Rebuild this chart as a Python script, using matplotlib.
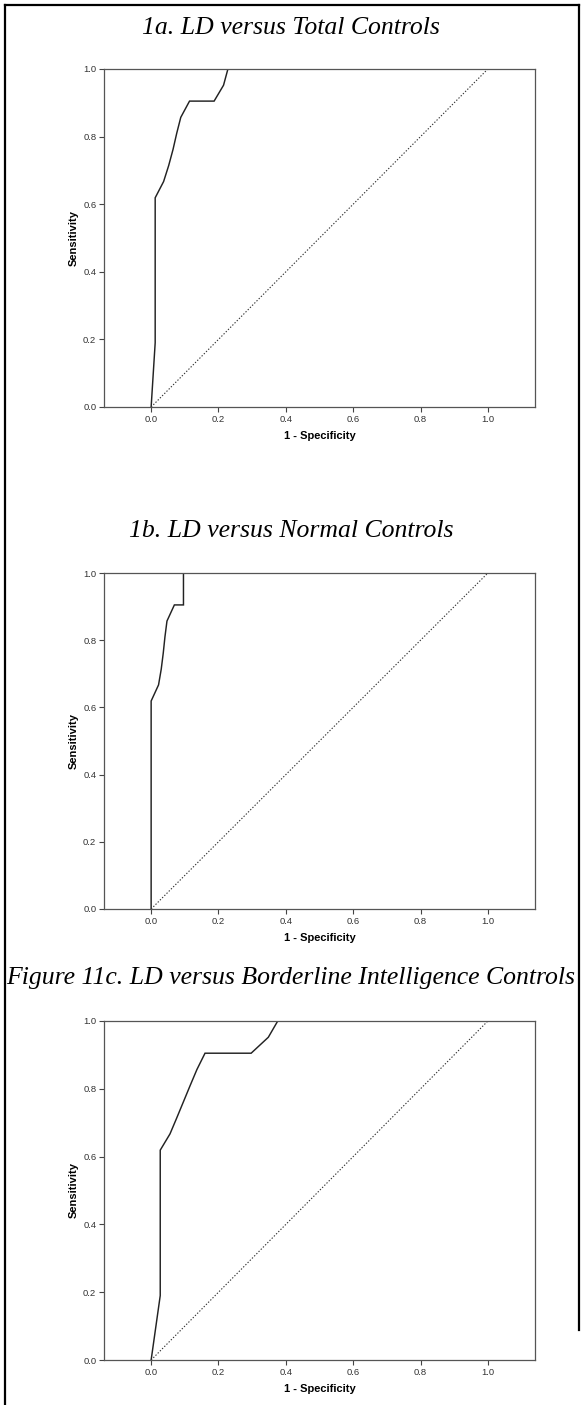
"""ROC curves: LD versus control groups (three panels)."""
import matplotlib.pyplot as plt
from matplotlib.lines import Line2D

# 1 - specificity / sensitivity pairs
fpr_total = [0.0, 0.012, 0.012, 0.037, 0.052, 0.065, 0.076, 0.088, 0.114, 0.187, 0.215, 0.228, 1.0]
tpr_total = [0.0, 0.190, 0.619, 0.667, 0.714, 0.762, 0.810, 0.857, 0.905, 0.905, 0.952, 1.0, 1.0]

fpr_normal = [0.0, 0.0, 0.022, 0.030, 0.036, 0.041, 0.047, 0.069, 0.096, 0.096, 1.0]
tpr_normal = [0.0, 0.619, 0.667, 0.714, 0.762, 0.810, 0.857, 0.905, 0.905, 1.0, 1.0]

fpr_border = [0.0, 0.027, 0.027, 0.056, 0.076, 0.096, 0.116, 0.136, 0.160, 0.297, 0.348, 0.376, 1.0]
tpr_border = [0.0, 0.190, 0.619, 0.667, 0.714, 0.762, 0.810, 0.857, 0.905, 0.905, 0.952, 1.0, 1.0]

titles = ["1a. LD versus Total Controls",
          "1b. LD versus Normal Controls",
          "Figure 11c. LD versus Borderline Intelligence Controls"]
ticks = [0.0, 0.2, 0.4, 0.6, 0.8, 1.0]

W, H = 584, 1405
fig = plt.figure(figsize=(W / 100, H / 100), dpi=100)

# panel boxes in pixels: (top, bottom)
boxes = [(69, 407), (573, 909), (1021, 1360)]
title_y = [28, 531, 978]
left, right = 104, 535
curves = [(fpr_total, tpr_total), (fpr_normal, tpr_normal), (fpr_border, tpr_border)]

for (top, bot), ty, title, (fx, fy) in zip(boxes, title_y, titles, curves):
    ax = fig.add_axes([left / W, 1 - bot / H, (right - left) / W, (bot - top) / H])
    ax.plot(fx, fy, color="#222222", lw=1.05, solid_joinstyle="miter")
    ax.plot([0, 1], [0, 1], color="#333333", lw=0.8, ls=(0, (1.2, 1.6)))
    ax.set_xlim(-0.14, 1.14)
    ax.set_ylim(0, 1.0)
    ax.set_xticks(ticks)
    ax.set_yticks(ticks)
    ax.set_xticklabels([f"{t:.1f}" for t in ticks])
    ax.set_yticklabels([f"{t:.1f}" for t in ticks])
    ax.tick_params(direction="out", length=3.5, width=0.8, color="#444444",
                   labelsize=6.8, labelcolor="#333333", pad=2)
    ax.tick_params(axis="x", top=False)
    ax.tick_params(axis="y", right=False)
    for s in ax.spines.values():
        s.set_color("#555555")
        s.set_linewidth(0.9)
    ax.set_xlabel("1 - Specificity", fontsize=8, fontweight="bold",
                  family="Liberation Sans", labelpad=5)
    ax.set_ylabel("Sensitivity", fontsize=8, fontweight="bold",
                  family="Liberation Sans", labelpad=3)
    for lab in ax.get_xticklabels() + ax.get_yticklabels():
        lab.set_family("Liberation Sans")
    fig.text(291 / W, 1 - ty / H, title, ha="center", va="center",
             fontsize=18.5, style="italic", family="Liberation Serif")

# outer frame
fig.add_artist(Line2D([5 / W, 5 / W], [0, 1 - 5 / H], color="black", lw=1.6,
                      transform=fig.transFigure))
fig.add_artist(Line2D([5 / W, 579 / W], [1 - 5 / H, 1 - 5 / H], color="black", lw=1.6,
                      transform=fig.transFigure))
fig.add_artist(Line2D([579 / W, 579 / W], [1 - 5 / H, 1 - 1330 / H], color="black", lw=1.6,
                      transform=fig.transFigure))

fig.savefig("out.png", dpi=100)
